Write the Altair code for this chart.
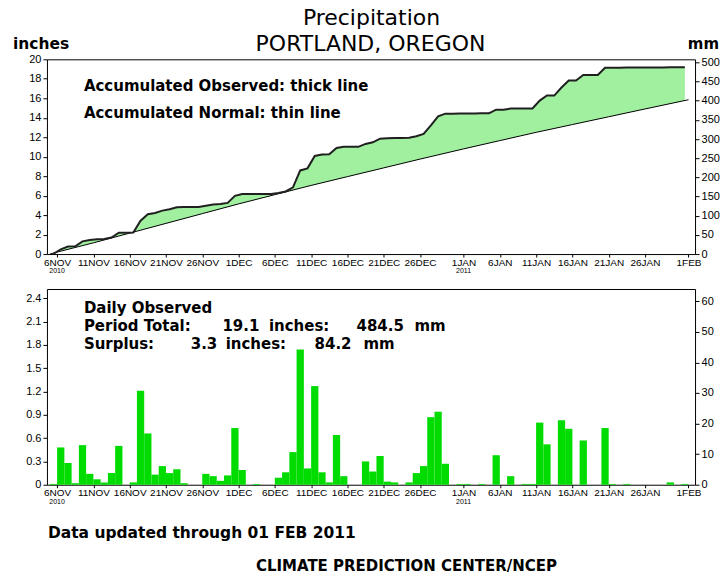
import altair as alt
import pandas as pd

# ---------------- data ----------------
tick_days = [1, 6, 11, 16, 21, 26, 31, 36, 41, 46, 51, 57, 62, 67, 72, 77, 82, 88]
tick_labels = ["6NOV", "11NOV", "16NOV", "21NOV", "26NOV", "1DEC", "6DEC", "11DEC",
               "16DEC", "21DEC", "26DEC", "1JAN", "6JAN", "11JAN", "16JAN", "21JAN",
               "26JAN", "1FEB"]
year_days = [1, 57]
year_labels = ["2010", "2011"]

# daily observed precipitation (inches), one value per day starting 5 Nov 2010
daily_in = [0.01, 0.48, 0.28, 0.02, 0.51, 0.14, 0.07, 0.03, 0.15, 0.50,
            0.00, 0.03, 1.21, 0.66, 0.13, 0.24, 0.15, 0.20, 0.02, 0.00,
            0.00, 0.14, 0.11, 0.05, 0.12, 0.73, 0.19, 0.00, 0.01, 0.00,
            0.00, 0.09, 0.16, 0.42, 1.74, 0.21, 1.27, 0.16, 0.03, 0.64,
            0.11, 0.00, 0.00, 0.30, 0.17, 0.37, 0.04, 0.03, 0.00, 0.03,
            0.15, 0.24, 0.87, 0.94, 0.27, 0.00, 0.01, 0.01, 0.00, 0.01,
            0.00, 0.38, 0.00, 0.11, 0.00, 0.01, 0.01, 0.80, 0.52, 0.00,
            0.83, 0.72, 0.00, 0.57, 0.00, 0.00, 0.73, 0.01, 0.00, 0.01,
            0.00, 0.00, 0.00, 0.00, 0.00, 0.03, 0.00, 0.01]

# accumulated normal (inches) read at the date ticks
normal_days = [0, 1, 6, 11, 16, 21, 26, 31, 36, 41, 46, 51, 57, 62, 67, 72, 77, 82, 88]
normal_cum_in = [0.0, 0.2, 1.15, 2.15, 3.15, 4.15, 5.15, 6.1, 7.05, 7.95, 8.85, 9.75,
                 10.8, 11.65, 12.5, 13.3, 14.1, 14.9, 15.85]

top_in_ticks = [0, 2, 4, 6, 8, 10, 12, 14, 16, 18, 20]
top_mm_ticks = [0, 50, 100, 150, 200, 250, 300, 350, 400, 450, 500]
bot_in_ticks = [0, 0.3, 0.6, 0.9, 1.2, 1.5, 1.8, 2.1, 2.4]
bot_mm_ticks = [0, 10, 20, 30, 40, 50, 60]

df_daily = pd.DataFrame({"day": list(range(len(daily_in))), "precip": daily_in})
df_normal = pd.DataFrame({"day": normal_days, "cum": normal_cum_in})
df_years = pd.DataFrame({"day": year_days, "label": year_labels})
one = pd.DataFrame({"a": [0]})

# ---------------- styling ----------------
W, H1, H2 = 649, 195, 196
NARROW = "Liberation Sans Narrow, Liberation Sans, sans-serif"
TXT = "DejaVu Sans"
AREA_GREEN = "#a0f0a0"
BAR_GREEN = "#00dc00"

xs = alt.Scale(domain=[-0.4, 88.9], nice=False, zero=False)
label_expr = ("[" + ",".join("'%s'" % l for l in tick_labels) + "][indexof(["
              + ",".join(str(d) for d in tick_days) + "], datum.value)]")
xaxis = alt.Axis(values=tick_days, labelExpr=label_expr, tickSize=3, tickColor="black",
                 labelColor="black", labelFont=NARROW, labelFontSize=10, labelPadding=0,
                 domain=False, grid=False, labelFlush=False, labelOverlap=False, title=None)


def yaxis(values, orient="left", fmt=None):
    kw = dict(values=values, orient=orient, tickSize=4, tickColor="black",
              labelColor="black", labelFont="Liberation Sans", labelFontSize=11,
              labelPadding=2, domain=False, grid=False, title=None)
    if fmt:
        kw["format"] = fmt
    return alt.Axis(**kw)


def txt(s, x, y, size=15, weight="bold", align="left"):
    return alt.Chart(one).mark_text(text=s, font=TXT, fontSize=size, fontWeight=weight,
                                    align=align, baseline="middle", color="black").encode(
        x=alt.value(x), y=alt.value(y))


ys_top = alt.Scale(domain=[0, 20], nice=False)

cum_base = alt.Chart(df_daily).transform_window(
    cum="sum(precip)", sort=[alt.SortField("day")], frame=[None, 0]
).transform_calculate(xm="datum.day + 0.5")

area_obs = cum_base.mark_area(color=AREA_GREEN).encode(
    x=alt.X("xm:Q", scale=xs, axis=xaxis),
    y=alt.Y("cum:Q", scale=ys_top, axis=yaxis(top_in_ticks)))
area_norm = alt.Chart(df_normal).mark_area(color="white").encode(
    x=alt.X("day:Q", scale=xs, axis=xaxis),
    y=alt.Y("cum:Q", scale=ys_top, axis=yaxis(top_in_ticks)))
line_norm = alt.Chart(df_normal).mark_line(color="black", strokeWidth=1).encode(
    x=alt.X("day:Q", scale=xs, axis=xaxis),
    y=alt.Y("cum:Q", scale=ys_top, axis=yaxis(top_in_ticks)))
line_obs = cum_base.mark_line(color="#202020", strokeWidth=2).encode(
    x=alt.X("xm:Q", scale=xs, axis=xaxis),
    y=alt.Y("cum:Q", scale=ys_top, axis=yaxis(top_in_ticks)))
years_top = alt.Chart(df_years).mark_text(font=NARROW, fontSize=7, baseline="middle",
                                          color="black").encode(
    x=alt.X("day:Q", scale=xs, axis=xaxis), y=alt.value(H1 + 17), text="label:N")

inch_group = alt.layer(area_obs, area_norm, line_norm, line_obs, years_top)

mm_top = alt.Chart(df_normal).transform_calculate(mm="datum.cum * 25.4").mark_line(
    opacity=0).encode(
    x=alt.X("day:Q", scale=xs, axis=xaxis),
    y=alt.Y("mm:Q", scale=alt.Scale(domain=[0, 508], nice=False),
            axis=yaxis(top_mm_ticks, orient="right")))

# invisible corner marker fixing the left edge of the drawing
anchor = alt.Chart(one).mark_rule(color="white", strokeWidth=1).encode(
    x=alt.value(-37.5), x2=alt.value(-37), y=alt.value(-40), y2=alt.value(-39))

top = alt.layer(
    inch_group, mm_top, anchor,
    txt("Precipitation", 325, -41, size=22, weight="normal", align="center"),
    txt("PORTLAND, OREGON", 324, -15, size=22, weight="normal", align="center"),
    txt("inches", -34, -15, size=15.5),
    txt("mm", 673, -15, size=15, align="right"),
    txt("Accumulated Observed: thick line", 37, 26.3),
    txt("Accumulated Normal: thin line", 37, 54),
).resolve_scale(y="independent").properties(width=W, height=H1)

# ---------------- bottom panel ----------------
bars = alt.Chart(df_daily).transform_filter("datum.precip > 0").transform_calculate(
    d2="datum.day + 1", base="0").mark_bar(color=BAR_GREEN).encode(
    x=alt.X("day:Q", scale=xs, axis=xaxis), x2="d2:Q",
    y=alt.Y("precip:Q", scale=alt.Scale(domain=[0, 2.52], nice=False),
            axis=yaxis(bot_in_ticks, fmt=".1~f")),
    y2="base:Q")
years_bot = alt.Chart(df_years).mark_text(font=NARROW, fontSize=7, baseline="middle",
                                          color="black").encode(
    x=alt.X("day:Q", scale=xs, axis=xaxis), y=alt.value(H2 + 17), text="label:N")
inch_bot = alt.layer(bars, years_bot)

mm_bot = alt.Chart(df_daily).transform_calculate(mm="datum.precip * 25.4").mark_point(
    opacity=0).encode(
    x=alt.X("day:Q", scale=xs, axis=xaxis),
    y=alt.Y("mm:Q", scale=alt.Scale(domain=[0, 64.0], nice=False),
            axis=yaxis(bot_mm_ticks, orient="right")))

bottom = alt.layer(
    inch_bot, mm_bot,
    txt("Daily Observed", 37, 19),
    txt("Period Total:", 37, 37),
    txt("19.1", 175.7, 37),
    txt("inches:", 222.3, 37),
    txt("484.5", 310, 37),
    txt("mm", 368, 37),
    txt("Surplus:", 37, 55),
    txt("3.3", 144, 55),
    txt("inches:", 179, 55),
    txt("84.2", 268, 55),
    txt("mm", 317, 55),
    txt("Data updated through 01 FEB 2011", 1, 244, size=15.5),
    txt("CLIMATE PREDICTION CENTER/NCEP", 360, 277, size=15, align="center"),
).resolve_scale(y="independent").properties(width=W, height=H2)

# the title text reaches 52px above the top frame; a -2 top padding puts the frame at y=58
chart = alt.vconcat(top, bottom, spacing=35, bounds="flush").properties(
    padding={"left": 0, "top": -2, "right": 0, "bottom": -3},
    background="white",
).configure_view(stroke="black", strokeWidth=1)

chart.save("out.html", embed_options={"renderer": "svg", "actions": False})
